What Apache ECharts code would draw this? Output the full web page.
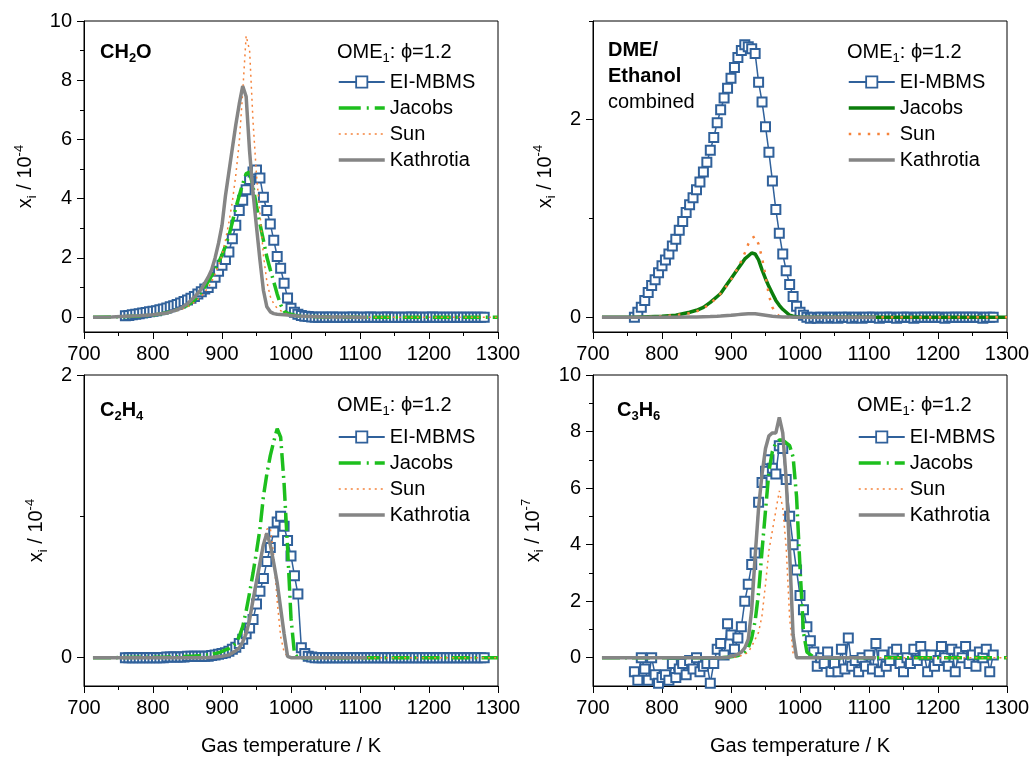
<!DOCTYPE html>
<html><head><meta charset="utf-8">
<script src="https://cdn.jsdelivr.net/npm/echarts@6/dist/echarts.min.js"></script>
<style>
html,body{margin:0;padding:0;background:#fff;}
body{width:1035px;height:760px;position:relative;overflow:hidden;}
.p{position:absolute;}
</style></head><body>
<div id="c1" class="p" style="left:0;top:0;width:535px;height:380px"></div>
<div id="c2" class="p" style="left:520px;top:0;width:515px;height:380px"></div>
<div id="c3" class="p" style="left:0;top:340px;width:535px;height:420px"></div>
<div id="c4" class="p" style="left:520px;top:340px;width:515px;height:420px"></div>
<script>
// ---------- DATA ----------
// Experimental temperatures (K)
const T_EXP = [760,765,770,775,780,785,790,795,800,805,810,815,820,825,830,835,840,845,850,855,860,865,870,875,
880,885,890,895,900,905,910,915,920,925,930,935,940,945,950,955,960,965,970,975,980,985,990,995,
1000,1005,1010,1015,1020,1025,1030,1035,1040,1045,1050,1055,1060,1065,1070,1075,1080,1085,1090,1095,
1100,1105,1110,1115,1120,1125,1130,1135,1140,1145,1150,1155,1160,1165,1170,1175,1180,1185,1190,1195,
1200,1205,1210,1215,1220,1225,1230,1235,1240,1245,1250,1255,1260,1265,1270,1275,1280];
// Model temperatures (K)
const T_MOD = [713,740,760,780,800,820,840, 850,860,870,880,
885,890,895,900,905,910,915,920,925, 930,935,940,945,950,955,960,965,970,975,
980,985,990,995,1000,1005,1010, 1020,1030,1050,1075,1100,1110, 1150,1200,1250,1300];

// CH2O (x 1e-4)
const CH2O_EXP = [0.05,0.06,0.08,0.10,0.12,0.14,0.16,0.18, 0.20,0.22,0.25,0.28,0.31,0.35,0.39,0.43,
0.48,0.53,0.58,0.64,0.70,0.78,0.86,0.95, 1.00,1.15,1.35,1.55,1.75,1.95,2.20,2.65,
3.10,3.60,3.95,4.30,4.65,4.90,4.97,4.70, 4.05,3.60,3.15,2.60,2.05,1.65,1.15,0.65,
0.30,0.17,0.10,0.06,0.03,0.02,0.01,0.0, 0.0,0.01,0.0,0.0,0.01,0.0,0.0,0.0,
0.0,0.0,0.01,0.0,0.0,0.0,0.0,0.01, 0.0,0.0,0.0,0.0,0.01,0.0,0.0,0.0,
0.0,0.0,0.0,0.01,0.0,0.0,0.0,0.0, 0.0,0.01,0.0,0.0,0.0,0.0,0.0,0.0, 0.0,0.0,0.0,0.0,0.0,0.0,0.0,0.0, 0.0];
const CH2O_JACOBS = [0,0.01,0.02,0.04,0.07,0.15,0.30, 0.40,0.58,0.85,1.2,
1.4,1.6,1.85,2.1,2.4,2.75,3.2,3.7,4.1, 4.5,4.85,4.9,4.4,3.75,3.15,2.6,2.03,1.6,1.2,
0.78,0.42,0.2,0.13,0.1,0.07,0.05, 0.03,0.02,0.01,0,0,0, 0,0,0,0];
const CH2O_SUN = [0,0.01,0.02,0.04,0.07,0.13,0.25, 0.35,0.5,0.7,1.0,
1.2,1.45,1.75,2.1,2.6,3.2,3.9,4.8,5.9, 7.6,9.5,9.0,6.6,4.8,3.5,2.1,1.2,0.7,0.45,
0.3,0.22,0.15,0.1,0.07,0.05,0.04, 0.02,0.01,0,0,0,0, 0,0,0,0];
const CH2O_KATH = [0,0.01,0.03,0.05,0.08,0.14,0.30, 0.45,0.68,0.95,1.35,
1.6,2.0,2.5,3.1,4.1,4.9,5.7,6.5,7.2, 7.8,7.45,5.6,4.2,3.05,1.93,0.91,0.35,0.18,0.12,
0.10,0.09,0.08,0.07,0.06,0.05,0.04, 0.03,0.02,0.01,0.01,0,0, null,null,null,null];

// DME/Ethanol combined (x 1e-4)
const DME_EXP = [0.0,0.05,0.10,0.17,0.25,0.32,0.38,0.45, 0.52,0.58,0.64,0.72,0.79,0.88,0.97,1.06,
1.14,1.21,1.29,1.37,1.47,1.57,1.69,1.82, 1.97,2.10,2.22,2.32,2.42,2.53,2.63,2.70,
2.76,2.74,2.72,2.67,2.38,2.18,1.93,1.67, 1.38,1.09,0.85,0.64,0.47,0.33,0.21,0.11,
0.05,0.02,0.0,-0.01,0.0,-0.01,0.0,0.0, -0.01,0.0,0.0,-0.01,0.0,0.0,0.0,-0.01, 0.0,0.0,-0.01,0.0,0.0,0.0,0.0,-0.01,
0.0,0.0,0.0,0.0,-0.01,0.0,0.0,0.0, 0.0,-0.01,0.0,0.0,0.0,0.0,0.0,0.0, 0.0,0.0,-0.01,0.0,0.0,0.0,0.0,0.0,
0.0,0.0,0.0,0.0,0.0,-0.01,0.0,0.0, 0.0];
const DME_JACOBS = [0,0,0,0.005,0.01,0.02,0.05, 0.07,0.1,0.15,0.21,
0.24,0.29,0.34,0.39,0.44,0.49,0.54,0.59,0.62, 0.65,0.64,0.58,0.48,0.39,0.31,0.24,0.17,0.12,0.08,
0.05,0.02,0.01,0.005,0,0,0, 0,0,0,0,0,0, 0,0,0,0];
const DME_SUN = [0,0,0,0,0.01,0.02,0.04, 0.06,0.09,0.14,0.2,
0.24,0.28,0.33,0.38,0.44,0.5,0.57,0.65,0.74, 0.8,0.82,0.74,0.6,0.42,0.22,0.1,0.04,0.01,0,
0,0,0,0,0,0,0, 0,0,0,0,0,0, 0,0,0,0];
const DME_KATH = [0,0,0,0,0,0,0.002, 0.003,0.005,0.007,0.01,
0.012,0.015,0.018,0.02,0.023,0.026,0.029,0.032,0.034, 0.035,0.034,0.03,0.025,0.02,0.015,0.01,0.007,0.005,0.003,
0.002,0.001,0,0,0,0,0, 0,0,0,0,0,0, null,null,null,null];

// C2H4 (x 1e-4)
const C2H4_EXP = [0.0,0.0,0.0,0.0,0.0,0.0,0.0,0.0, 0.0,0.0,0.0,0.0,0.005,0.005,0.005,0.005,
0.005,0.005,0.01,0.01,0.01,0.01,0.01,0.01, 0.01,0.015,0.02,0.025,0.03,0.035,0.045,0.06,
0.075,0.10,0.13,0.17,0.21,0.27,0.38,0.47, 0.56,0.68,0.78,0.89,0.96,1.00,0.93,0.83,
0.72,0.58,0.45,0.07,0.03,0.01,0.005,0.0, 0.0,0.0,0.0,0.0,0.0,0.0,0.0,0.0, 0.0,0.0,0.0,0.0,0.0,0.0,0.0,0.0,
0.0,0.0,0.0,0.0,0.0,0.0,0.0,0.0, 0.0,0.0,0.0,0.0,0.0,0.0,0.0,0.0, 0.0,0.0,0.0,0.0,0.0,0.0,0.0,0.0,
0.0,0.0,0.0,0.0,0.0,0.0,0.0,0.0, 0.0];
const C2H4_JACOBS = [0,0,0.002,0.003,0.004,0.005,0.008, 0.01,0.012,0.015,0.02,
0.025,0.03,0.035,0.045,0.055,0.065,0.08,0.1,0.15, 0.22,0.33,0.46,0.6,0.75,0.91,1.14,1.3,1.43,1.53,
1.62,1.56,1.23,0.78,0.28,0.03,0, 0,0,0,0,0,0, 0,0,0,0];
const C2H4_SUN = [0,0,0,0,0,0,0, 0,0,0.003,0.005,
0.006,0.008,0.01,0.012,0.015,0.02,0.03,0.05,0.08, 0.13,0.2,0.28,0.4,0.55,0.68,0.82,0.91,0.92,0.72,
0.4,0.15,0.04,0.01,0,0,0, 0,0,0,0,0,0, 0,0,0,0];
const C2H4_KATH = [0,0,0,0,0,0,0, 0,0,0,0.002,
0.003,0.005,0.008,0.01,0.015,0.02,0.035,0.05,0.07, 0.11,0.17,0.27,0.41,0.54,0.67,0.8,0.88,0.8,0.67,
0.53,0.35,0.17,0.01,0,0,0, 0,0,0,0,0,0, null,null,null,null];

// C3H6 (x 1e-7)
const C3H6_EXP = [-0.5,-0.8,0.0,-0.4,-0.8,0.0,-0.6,-0.9, -0.7,-0.6,-0.8,-0.2,-0.7,-0.4,-0.2,-0.6,
-0.1,-0.4,0.0,-0.5,-0.3,-0.2,-0.9,-0.2, 0.3,0.5,0.1,1.2,0.8,0.3,0.7,1.1,
2.0,2.6,3.3,3.7,5.5,6.2,6.6,7.0, 6.7,6.5,7.5,7.4,6.3,5.0,4.0,3.1,
2.2,1.7,1.1,0.6,0.2,-0.3,0.0,-0.2, 0.2,-0.5,-0.2,-0.5,0.3,-0.4,0.7,-0.3,
-0.1,-0.5,0.0,-0.3,0.1,-0.4,0.5,-0.5, 0.1,-0.3,-0.1,0.2,0.3,-0.2,-0.5,0.0,
-0.2,0.3,-0.1,0.4,0.1,-0.5,0.1,-0.3, -0.1,0.4,0.0,-0.3,0.3,-0.5,0.2,0.0,
0.4,-0.2,0.1,-0.3,0.2,0.0,0.3,-0.5, 0.1];
const C3H6_JACOBS = [0,0,0,0,0,0,0, 0,0,0,0,
0,0.01,0.02,0.03,0.05,0.08,0.12,0.2,0.35, 0.7,1.3,2.3,3.8,5.2,6.6,7.3,7.6,7.7,7.7,
7.6,7.5,7.1,5.7,3.2,0.9,0.2, 0.02,0,0,0,0,0, 0,0,0,0];
const C3H6_SUN = [0,0,0,0,0,0,0, 0,0,0,0,
0,0,0,0,0.02,0.04,0.08,0.12,0.2, 0.4,0.65,0.9,1.5,2.6,3.8,4.5,5.2,5.9,5.3,
3.9,1.4,0.15,0.02,0,0,0, 0,0,0,0,0,0, 0,0,0,0];
const C3H6_KATH = [0,0,0,0,0,0,0, 0,0,0,0,
0,0.01,0.02,0.05,0.08,0.12,0.2,0.35,0.65, 1.7,3.6,5.3,6.5,7.4,7.85,7.95,7.95,8.5,7.95,
6.3,3.7,0.8,0,0,0,0, 0,0,0,0,0,0, null,null,null,null];

const X_TICKS = [700,800,900,1000,1100,1200,1300];
const SERIES_NAMES = ['EI-MBMS','Jacobs','Sun','Kathrotia'];

// ---------- STYLE ----------
const FONT = "'Liberation Sans', Arial, Helvetica, sans-serif";
const BLUE = '#30619b', GREEN = '#1dbf1d', DKGREEN = '#0b7d0b', ORANGE = '#f5823a', GRAY = '#858585';
const RICH = {
  b:  {fontSize:20, fontWeight:'bold', fontFamily:FONT, color:'#000', lineHeight:26},
  bs: {fontSize:13, fontWeight:'bold', fontFamily:FONT, color:'#000', verticalAlign:'bottom', lineHeight:15},
  n:  {fontSize:20, fontWeight:'normal', fontFamily:FONT, color:'#000', lineHeight:26},
  sub:{fontSize:13, fontWeight:'normal', fontFamily:FONT, color:'#000', verticalAlign:'bottom', lineHeight:15},
  sup:{fontSize:13, fontWeight:'normal', fontFamily:FONT, color:'#000', verticalAlign:'top', lineHeight:15}
};
const zip = (xs, ys) => xs.map((x, i) => [x, ys[i]]);

function build(p) {
  const jac = p.darkJacobs
    ? {color:DKGREEN, width:3.5, type:'solid'}
    : {color:GREEN, width:3.5, type:[18,5,2,5]};
  const sun = p.darkJacobs
    ? {color:ORANGE, width:2.5, type:[2.5,7]}
    : {color:ORANGE, width:1.5, type:[2,4]};
  const kath = {color:GRAY, width:3.5, type:'solid'};
  const axisText = {fontSize:20, fontFamily:FONT, color:'#000', fontWeight:'normal'};
  const noSym = {opacity:0};
  return {
    animation:false,
    grid:{left:p.left, top:p.top, width:414, height:311, show:true, borderColor:'#000', borderWidth:1, backgroundColor:'transparent', outerBoundsMode:'none'},
    title:p.titles.map(t => ({text:t.text, left:t.left, top:t.top, padding:0, textStyle:{rich:RICH, fontSize:20, fontWeight:'normal', fontFamily:FONT, lineHeight:26}})),
    legend:{orient:'vertical', left:p.legLeft, top:p.legTop, padding:0, itemWidth:46, itemHeight:14, itemGap:6, selectedMode:false,
      textStyle:{fontSize:20, fontFamily:FONT, color:'#000', lineHeight:20},
      data:[
        {name:SERIES_NAMES[0], itemStyle:{color:'#fff', borderColor:BLUE, borderWidth:1.8}, lineStyle:{color:BLUE, width:2}},
        {name:SERIES_NAMES[1], itemStyle:noSym, lineStyle:Object.assign({}, jac, p.darkJacobs ? {} : {type:[22,6,2,6]})},
        {name:SERIES_NAMES[2], itemStyle:noSym, lineStyle:Object.assign({}, sun)},
        {name:SERIES_NAMES[3], itemStyle:noSym, lineStyle:Object.assign({}, kath)}
      ]},
    xAxis:{type:'value', min:X_TICKS[0], max:X_TICKS[X_TICKS.length-1], interval:100,
      name:p.xName || '', nameLocation:'middle', nameGap:50, nameTextStyle:axisText,
      axisLine:{show:true, onZero:false, lineStyle:{color:'#000', width:1}},
      axisTick:{show:true, length:7, lineStyle:{color:'#000'}},
      minorTick:{show:true, splitNumber:2, length:4, lineStyle:{color:'#000'}},
      axisLabel:Object.assign({margin:12, formatter:v => String(v)}, axisText), splitLine:{show:false}},
    yAxis:[
      {type:'value', min:p.yMin, max:p.yMax, position:'left',
        name:p.yName, nameLocation:'middle', nameGap:p.yNameGap, nameRotate:90,
        nameTextStyle:Object.assign({rich:RICH, lineHeight:26}, axisText),
        axisLine:{show:true, onZero:false, lineStyle:{color:'#000', width:1}},
        axisTick:{show:true, length:7, customValues:p.yMajor, lineStyle:{color:'#000'}},
        axisLabel:Object.assign({margin:12, customValues:p.yMajor, formatter:v => String(v)}, axisText),
        splitLine:{show:false}},
      {type:'value', min:p.yMin, max:p.yMax, position:'left',
        axisLine:{show:false}, axisLabel:{show:false}, splitLine:{show:false},
        axisTick:{show:true, length:4, customValues:p.yMinor, lineStyle:{color:'#000'}}}
    ],
    series:[
      {name:'EI-MBMS', type:'line', data:zip(T_EXP, p.exp), symbol:'rect', symbolSize:9, showAllSymbol:true,
        itemStyle:{color:'#fff', borderColor:BLUE, borderWidth:2}, lineStyle:{color:BLUE, width:1.5}, z:2},
      {name:'Jacobs', type:'line', data:zip(T_MOD, p.jacobs), symbol:'none', showSymbol:false,
        itemStyle:{color:jac.color, opacity:0}, lineStyle:jac, z:3},
      {name:'Sun', type:'line', data:zip(T_MOD, p.sun), symbol:'none', showSymbol:false,
        itemStyle:{color:ORANGE, opacity:0}, lineStyle:sun, z:4},
      {name:'Kathrotia', type:'line', data:zip(T_MOD, p.kath), symbol:'none', showSymbol:false,
        itemStyle:{color:GRAY, opacity:0}, lineStyle:kath, z:5}
    ]
  };
}

const OME = '{n|OME}{sub|1}{n|: ϕ=1.2}';
const panels = [
  {id:'c1', left:84, top:21, yMin:-0.5, yMax:10, yMajor:[0,2,4,6,8,10], yMinor:[1,3,5,7,9],
   yName:'x{sub|i} / 10{sup|-4}', yNameGap:45,
   titles:[{text:'{b|CH}{bs|2}{b|O}', left:100, top:39}, {text:OME, left:337, top:39}],
   legLeft:337, legTop:72, exp:CH2O_EXP, jacobs:CH2O_JACOBS, sun:CH2O_SUN, kath:CH2O_KATH},
  {id:'c2', left:73, top:21, yMin:-0.15, yMax:3, yMajor:[0,2], yMinor:[1,3],
   yName:'x{sub|i} / 10{sup|-4}', yNameGap:35, darkJacobs:true,
   titles:[{text:'{b|DME/}\n{b|Ethanol}\n{n|combined}', left:88, top:37}, {text:OME, left:327, top:39}],
   legLeft:327, legTop:72, exp:DME_EXP, jacobs:DME_JACOBS, sun:DME_SUN, kath:DME_KATH},
  {id:'c3', left:84, top:35, yMin:-0.2, yMax:2, yMajor:[0,2], yMinor:[1],
   yName:'x{sub|i} / 10{sup|-4}', yNameGap:34, xName:'Gas temperature / K',
   titles:[{text:'{b|C}{bs|2}{b|H}{bs|4}', left:100, top:57}, {text:OME, left:337, top:52}],
   legLeft:337, legTop:87, exp:C2H4_EXP, jacobs:C2H4_JACOBS, sun:C2H4_SUN, kath:C2H4_KATH},
  {id:'c4', left:73, top:35, yMin:-1, yMax:10, yMajor:[0,2,4,6,8,10], yMinor:[1,3,5,7,9],
   yName:'x{sub|i} / 10{sup|-7}', yNameGap:47, xName:'Gas temperature / K',
   titles:[{text:'{b|C}{bs|3}{b|H}{bs|6}', left:97, top:57}, {text:OME, left:337, top:52}],
   legLeft:337, legTop:87, exp:C3H6_EXP, jacobs:C3H6_JACOBS, sun:C3H6_SUN, kath:C3H6_KATH}
];
panels.forEach(p => {
  const chart = echarts.init(document.getElementById(p.id), null, {renderer:'canvas'});
  chart.setOption(build(p));
});
</script>
</body></html>
